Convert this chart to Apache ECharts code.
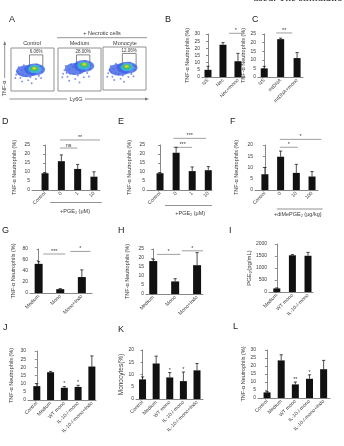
<!DOCTYPE html>
<html><head><meta charset="utf-8">
<script src="https://cdn.jsdelivr.net/npm/echarts@6/dist/echarts.min.js"></script>
<style>html,body{margin:0;padding:0;background:#fff}#c{width:344px;height:446px}</style>
</head><body><div id="c"></div>
<script>
// ---------------- DATA ----------------
// Panel A (flow cytometry) – gates and density blob points (axis units 0-100)
const aTitles = ['Control','Medium','Monocyte'];
const aGatePct = ['6.06%','28.00%','12.06%'];
const aGates = [[43,57,74,84],[43,57,74,84],[45,56,77,85]];
const aHaze = [[[55,50],[36,46]],[[60,58],[40,51]],[[56,52],[38,47]]];
const aCyan = [[[55,51]],[[60,59]],[[56,53]]];
const aGreen = [[[54,52]],[[61,61]],[[55,54]]];
const aYellow = [[[54,53]],[[61,62]],[[55,55]]];
const aDots = [
  [[15,45],[20,40],[25,48],[28,38],[32,52],[22,30],[35,35],[42,58],[45,32],[60,62],[68,55],[72,45],[65,35],[50,38],[30,60],[18,55],[40,25],[58,28],[75,52],[12,38],[10,30],[48,18],[70,30],[26,22]],
  [[15,48],[20,42],[26,50],[28,40],[34,56],[22,33],[36,40],[44,64],[46,36],[64,70],[70,62],[74,52],[68,42],[52,44],[30,62],[18,58],[40,28],[60,32],[76,60],[12,40],[10,32],[50,20],[72,34],[26,24]],
  [[15,46],[20,41],[25,49],[29,39],[33,54],[22,31],[36,37],[43,60],[46,34],[62,64],[70,58],[74,47],[66,37],[51,40],[30,61],[18,56],[41,26],[59,30],[76,54],[12,39],[10,31],[49,19],[71,32],[26,23]]
];

// Panel B
const bCats = ['NS','Nec','Nec+mono'];
const bVals = [5,22.5,11];
const bErr = [2.5,1.5,5.5];
const bSig = [[1.4,2.3,30.5]]; const bSigLab = ['*'];
// Panel C
const cCats = ['NS','mtDNA','mtDNA+mono'];
const cVals = [5,22,11];
const cErr = [1.2,0.6,3.2];
const cSig = [[0.73,1.7,25.6]]; const cSigLab = ['**'];
// Panel D
const dCats = ['Control','0','1','10'];
const dVals = [9.3,16,11.7,7.4];
const dErr = [0.3,3.5,2.5,2.7];
const dSig = [[0.92,1.98,23.3],[0.92,3.37,27.8]]; const dSigLab = ['ns','**'];
const dGroup = [0.31,3.48,1.84]; const dGroupLab = '+PGE\u2082 (\u03bcM)';
// Panel E
const eCats = ['Control','0','1','10'];
const eVals = [9.3,20.7,10.5,11];
const eErr = [0.3,3,2.3,2];
const eSig = [[0.83,1.98,23.7],[0.83,2.86,28.7]]; const eSigLab = ['***','***'];
const eGroup = [0.31,3.23,1.875]; const eGroupLab = '+PGE\u2082 (\u03bcM)';
// Panel F
const fCats = ['Control','0','10','100'];
const fVals = [7,14.8,7.6,6];
const fErr = [3,2.5,3.8,2.2];
const fSig = [[0.95,2.1,19],[0.95,3.59,22.5]]; const fSigLab = ['*','*'];
const fGroup = [0.76,3.67,2.09]; const fGroupLab = '+diMePGE\u2082 (\u03bcg/kg)';
// Panel G
const gCats = ['Medium','Mono','Mono+Indo'];
const gVals = [53,7,29];
const gErr = [4,1,13];
const gSig = [[0.22,1.23,70.9],[1.47,2.4,75.6]]; const gSigLab = ['***','*'];
// Panel H
const hCats = ['Medium','Mono','Mono+Indo'];
const hVals = [18.3,7,16];
const hErr = [1,1.5,7];
const hSig = [[0.17,1.23,22],[1.3,2.27,24]]; const hSigLab = ['*','*'];
// Panel I
const iCats = ['Medium','WT mono','IL-10-/-mono'];
const iVals = [150,1530,1510];
const iErr = [20,30,140];
// Panel J
const jCats = ['Control','Medium','WT mono','IL-10-/-mono','IL-10-/-mono+Indo'];
const jVals = [8.5,17,7.5,8,20.5];
const jErr = [1.5,0.5,0.7,1,6.5];
const jSig = [[2,2,8.6],[3,3,9.4]]; const jSigLab = ['*','*'];
// Panel K
const kCats = ['Control','Medium','WT mono','IL-10-/-mono','IL-10-/-mono+Indo'];
const kVals = [8,14.5,8.8,7.3,11.7];
const kErr = [1,3,2,3.7,2.8];
const kSig = [[2,2,11],[3,3,11.3]]; const kSigLab = ['*','*'];
// Panel L
const lCats = ['Control','Medium','WT mono','IL-10-/-mono','IL-10-/-mono+Indo'];
const lVals = [3.5,23.5,8.5,12,18];
const lErr = [0.5,3.5,1.5,2.5,5.5];
const lSig = [[2,2,10.3],[3,3,14.8]]; const lSigLab = ['**','*'];

// ---------------- LAYOUT / BUILD ----------------
const FF = 'Liberation Sans, Arial, sans-serif';
const TXT = '#3a3a3a';
const AX = '#6a6a6a';
const tnf = 'TNF-\u03b1 Neutrophils (%)';

const panels = [
  {cats:bCats, vals:bVals, err:bErr, sig:bSig, sigLab:bSigLab, g:{left:202,top:34,width:43,height:43}, xr:[-0.4,2.47], y:[30,5], bw:7, name:tnf, gap:8},
  {cats:cCats, vals:cVals, err:cErr, sig:cSig, sigLab:cSigLab, g:{left:258,top:34,width:45,height:43}, xr:[-0.38,2.36], y:[25,5], bw:7, name:tnf, gap:8},
  {cats:dCats, vals:dVals, err:dErr, sig:dSig, sigLab:dSigLab, g:{left:32,top:145,width:68,height:45}, xr:[-0.8,3.37], y:[25,5], bw:7, name:tnf, gap:15, group:dGroup, groupLab:dGroupLab, goff:[12.5,21.5]},
  {cats:eCats, vals:eVals, err:eErr, sig:eSig, sigLab:eSigLab, g:{left:147,top:145,width:65,height:45}, xr:[-0.81,3.23], y:[25,5], bw:7, name:tnf, gap:15, group:eGroup, groupLab:eGroupLab, goff:[15.5,23.5]},
  {cats:fCats, vals:fVals, err:fErr, sig:fSig, sigLab:fSigLab, g:{left:255,top:145,width:63,height:45}, xr:[-0.63,3.38], y:[20,5], bw:7, name:tnf, gap:16, group:fGroup, groupLab:fGroupLab, goff:[19,24]},
  {cats:gCats, vals:gVals, err:gErr, sig:gSig, sigLab:gSigLab, g:{left:30,top:249,width:62,height:44}, xr:[-0.4,2.47], y:[80,20], bw:8, name:tnf, gap:14},
  {cats:hCats, vals:hVals, err:hErr, sig:hSig, sigLab:hSigLab, g:{left:146,top:249,width:57,height:45}, xr:[-0.33,2.27], y:[25,5], bw:8, name:tnf, gap:16},
  {cats:iCats, vals:iVals, err:iErr, sig:null, g:{left:269,top:244,width:44,height:48}, xr:[-0.5,2.32], y:[2000,500], bw:7, name:'PGE\u2082(pg/mL)', gap:12, nameSize:6},
  {cats:jCats, vals:jVals, err:jErr, sig:jSig, sigLab:jSigLab, g:{left:28,top:351,width:68,height:49}, xr:[-0.64,4.3], y:[30,5], bw:7, name:tnf, gap:14},
  {cats:kCats, vals:kVals, err:kErr, sig:kSig, sigLab:kSigLab, g:{left:136,top:350,width:67,height:49}, xr:[-0.48,4.44], y:[20,5], bw:7, name:'Monocytes(%)', gap:9, nameSize:6.5},
  {cats:lCats, vals:lVals, err:lErr, sig:lSig, sigLab:lSigLab, g:{left:258,top:350,width:72,height:48}, xr:[-0.64,4.45], y:[30,5], bw:7, name:tnf, gap:8}
];

const grids = [], xAxes = [], yAxes = [], series = [];

function errRender(params, api){
  const x = api.value(0), v = api.value(1), e = api.value(2);
  const p0 = api.coord([x, v]), p1 = api.coord([x, v + e]);
  return {type:'group', children:[
    {type:'line', shape:{x1:p0[0],y1:p0[1],x2:p1[0],y2:p1[1]}, style:{stroke:'#222',lineWidth:0.8}},
    {type:'line', shape:{x1:p1[0]-1.6,y1:p1[1],x2:p1[0]+1.6,y2:p1[1]}, style:{stroke:'#222',lineWidth:0.8}}
  ]};
}
function sigRender(labels){
  return function(params, api){
    const x1 = api.value(0), x2 = api.value(1), y = api.value(2);
    const p1 = api.coord([x1, y]), p2 = api.coord([x2, y]);
    const ch = [];
    if (x2 > x1) ch.push({type:'line', shape:{x1:p1[0],y1:p1[1],x2:p2[0],y2:p2[1]}, style:{stroke:'#777',lineWidth:0.7}});
    ch.push({type:'text', x:(p1[0]+p2[0])/2, y:p1[1]+ (x2 > x1 ? 0.5 : 1), style:{text:labels[params.dataIndex], fontSize:5.5, fill:TXT, align:'center', verticalAlign:'bottom', fontFamily:FF}});
    return {type:'group', children:ch};
  };
}
function groupRender(label, off){
  return function(params, api){
    const x1 = api.value(0), x2 = api.value(1), xl = api.value(2);
    const p1 = api.coord([x1, 0]), p2 = api.coord([x2, 0]), pl = api.coord([xl, 0]);
    return {type:'group', children:[
      {type:'line', shape:{x1:p1[0],y1:p1[1]+off[0],x2:p2[0],y2:p2[1]+off[0]}, style:{stroke:'#777',lineWidth:0.8}},
      {type:'text', x:pl[0], y:pl[1]+off[1], style:{text:label, fontSize:5.5, fill:TXT, align:'center', verticalAlign:'middle', fontFamily:FF}}
    ]};
  };
}

panels.forEach((p, k) => {
  grids.push(Object.assign({containLabel:false, outerBoundsMode:'none'}, p.g));
  const cats = p.cats;
  xAxes.push({type:'value', gridIndex:k, min:p.xr[0], max:p.xr[1],
    axisLine:{show:true, onZero:false, lineStyle:{color:AX, width:0.8}},
    axisTick:{show:false}, splitLine:{show:false},
    axisLabel:{customValues:cats.map((c,i)=>i), formatter:v=>cats[Math.round(v)] || '', rotate:45, fontSize:5, margin:2.5, color:TXT, fontFamily:FF}
  });
  yAxes.push({type:'value', gridIndex:k, min:0, max:p.y[0], interval:p.y[1],
    axisLine:{show:true, lineStyle:{color:AX, width:0.8}},
    axisTick:{show:true, length:2, lineStyle:{color:AX, width:0.8}},
    splitLine:{show:false},
    axisLabel:{fontSize:5, margin:2, color:TXT, fontFamily:FF, formatter:v=>String(v)},
    name:p.name, nameLocation:'middle', nameGap:p.gap,
    nameTextStyle:{fontSize:p.nameSize || 5.5, color:TXT, fontFamily:FF}
  });
  series.push({type:'bar', xAxisIndex:k, yAxisIndex:k, barWidth:p.bw, itemStyle:{color:'#111'},
    data:p.vals.map((v,i)=>[i,v]), silent:true, animation:false});
  series.push({type:'custom', xAxisIndex:k, yAxisIndex:k, renderItem:errRender, encode:{x:0,y:1},
    data:p.vals.map((v,i)=>[i,v,p.err[i]]), silent:true, animation:false, z:3});
  if (p.sig) series.push({type:'custom', xAxisIndex:k, yAxisIndex:k, renderItem:sigRender(p.sigLab), encode:{x:[0,1],y:2},
    data:p.sig, silent:true, animation:false, clip:false});
  if (p.group) series.push({type:'custom', xAxisIndex:k, yAxisIndex:k, renderItem:groupRender(p.groupLab, p.goff), encode:{x:[0,1]},
    data:[p.group], silent:true, animation:false, clip:false});
});

// Panel A flow plots
const aBoxes = [{left:11,top:48,width:43,height:43},{left:58,top:48,width:43,height:43},{left:103,top:47,width:43,height:43}];
aBoxes.forEach((b, j) => {
  const k = grids.length;
  grids.push(Object.assign({containLabel:false, outerBoundsMode:'none', show:true, borderColor:'#777', borderWidth:0.8, backgroundColor:'#fff'}, b));
  xAxes.push({type:'value', gridIndex:k, min:0, max:100, show:false});
  yAxes.push({type:'value', gridIndex:k, min:0, max:100, show:false});
  const common = {type:'scatter', xAxisIndex:k, yAxisIndex:k, silent:true, animation:false};
  series.push(Object.assign({}, common, {data:aDots[j], symbolSize:2, itemStyle:{color:'#3a4fd6', opacity:0.6}}));
  series.push(Object.assign({}, common, {data:aHaze[j], symbolSize:[21,12], itemStyle:{color:'#3f62e6', opacity:0.8}}));
  series.push(Object.assign({}, common, {data:aCyan[j], symbolSize:[13,8], itemStyle:{color:'#35c4da'}}));
  series.push(Object.assign({}, common, {data:aGreen[j], symbolSize:[8,5], itemStyle:{color:'#4cc043'}}));
  series.push(Object.assign({}, common, {data:aYellow[j], symbolSize:[4,3], itemStyle:{color:'#e8d820'}}));
  series.push({type:'custom', xAxisIndex:k, yAxisIndex:k, silent:true, animation:false, clip:false, encode:{x:[0,2],y:[1,3]},
    data:[aGates[j]],
    renderItem:function(params, api){
      const p1 = api.coord([api.value(0), api.value(1)]), p2 = api.coord([api.value(2), api.value(3)]);
      return {type:'group', children:[
        {type:'rect', shape:{x:p1[0], y:p2[1], width:p2[0]-p1[0], height:p1[1]-p2[1]}, style:{fill:'none', stroke:'#555', lineWidth:0.7}},
        {type:'text', x:(p1[0]+p2[0])/2, y:p2[1]-0.5, style:{text:aGatePct[j], fontSize:4.5, fill:TXT, align:'center', verticalAlign:'bottom', fontFamily:FF}}
      ]};
    }});
});

const letters = [['A',9,20],['B',165,20],['C',252,20],['D',2,122],['E',118,122],['F',230,122],['G',2,231],['H',118,231],['I',229,231],['J',3,328],['K',118,330],['L',233,327]];
const graphics = letters.map(l => ({type:'text', x:l[1], y:l[2], style:{text:l[0], fontSize:9, fill:'#222', verticalAlign:'middle', fontFamily:FF}}));
// panel A decorations
graphics.push({type:'text', x:32, y:43.5, style:{text:aTitles[0], fontSize:5.5, fill:TXT, align:'center', verticalAlign:'middle', fontFamily:FF}});
graphics.push({type:'text', x:79.5, y:43.5, style:{text:aTitles[1], fontSize:5.5, fill:TXT, align:'center', verticalAlign:'middle', fontFamily:FF}});
graphics.push({type:'text', x:125, y:43.5, style:{text:aTitles[2], fontSize:5.5, fill:TXT, align:'center', verticalAlign:'middle', fontFamily:FF}});
graphics.push({type:'text', x:102, y:33.5, style:{text:'+ Necrotic cells', fontSize:5.5, fill:TXT, align:'center', verticalAlign:'middle', fontFamily:FF}});
graphics.push({type:'line', shape:{x1:57,y1:37.7,x2:147,y2:37.7}, style:{stroke:'#777', lineWidth:0.8}});
// TNF-a vertical arrow
graphics.push({type:'line', shape:{x1:4.7,y1:42,x2:4.7,y2:78}, style:{stroke:'#777', lineWidth:0.8}});
graphics.push({type:'polygon', shape:{points:[[3.3,45],[6.1,45],[4.7,41]]}, style:{fill:'#777'}});
graphics.push({type:'text', x:4.7, y:88.5, rotation:Math.PI/2, style:{text:'TNF-\u03b1', fontSize:5.5, fill:TXT, align:'center', verticalAlign:'middle', fontFamily:FF}});
// Ly6G horizontal arrow
graphics.push({type:'line', shape:{x1:9.5,y1:99,x2:67,y2:99}, style:{stroke:'#777', lineWidth:0.8}});
graphics.push({type:'line', shape:{x1:85,y1:99,x2:147,y2:99}, style:{stroke:'#777', lineWidth:0.8}});
graphics.push({type:'polygon', shape:{points:[[145,97.6],[145,100.4],[149,99]]}, style:{fill:'#777'}});
graphics.push({type:'text', x:76, y:99, style:{text:'Ly6G', fontSize:5.5, fill:TXT, align:'center', verticalAlign:'middle', fontFamily:FF}});
// cut-off body text at top
graphics.push({type:'text', x:253, y:4, style:{text:'used. The stimulatio', fontSize:11, fill:'#222', verticalAlign:'bottom', fontFamily:'Liberation Serif, Times New Roman, serif'}});

const chart = echarts.init(document.getElementById('c'), null, {renderer:'canvas'});
chart.setOption({
  animation:false,
  backgroundColor:'#fff',
  grid:grids, xAxis:xAxes, yAxis:yAxes, series:series,
  graphic:graphics
});
</script></body></html>
